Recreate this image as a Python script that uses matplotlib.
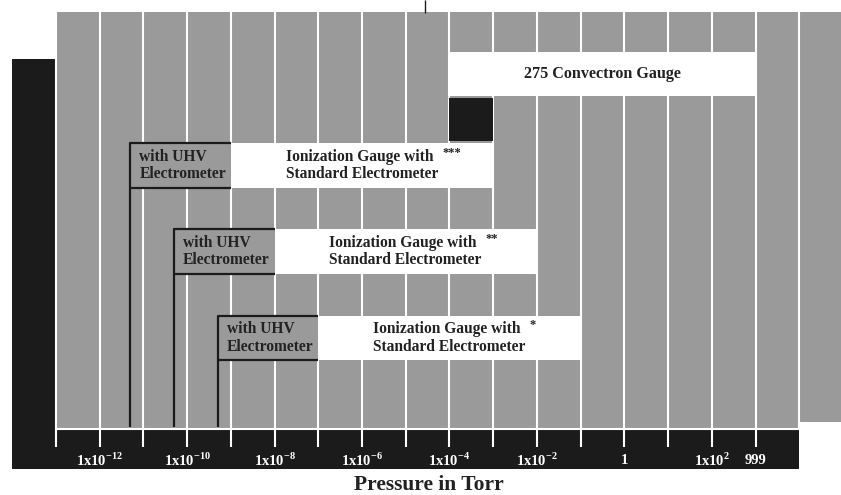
#!/usr/bin/env python3

import matplotlib
import numpy as np

matplotlib.use("Agg")
import matplotlib.pyplot as plt

plt.rcParams["font.family"] = ["Liberation Serif", "DejaVu Serif"]
plt.rcParams["mathtext.fontset"] = "custom"
plt.rcParams["mathtext.rm"] = "Liberation Serif"
plt.rcParams["mathtext.bf"] = "Liberation Serif:bold"

# gauge ranges, Torr
convectron_name = "275 Convectron Gauge"
convectron_low = 1e-4
convectron_high = 999
overlap_low = 1e-4
overlap_high = 1e-3

ion_marks = ["***", "**", "*"]
ion_std_low = [1e-9, 1e-8, 1e-7]
ion_std_high = [1e-3, 1e-2, 1e-1]
ion_uhv_low = [5e-12, 5e-11, 5e-10]

grid_decades = np.arange(-13, 5)
tick_decades = np.arange(-13, 4)
label_values = [1e-12, 1e-10, 1e-8, 1e-6, 1e-4, 1e-2, 1, 1e2, 999]
label_texts = [
    r"1x10$^{\mathbf{-12}}$", r"1x10$^{\mathbf{-10}}$", r"1x10$^{\mathbf{-8}}$",
    r"1x10$^{\mathbf{-6}}$", r"1x10$^{\mathbf{-4}}$", r"1x10$^{\mathbf{-2}}$",
    "1", r"1x10$^{\mathbf{2}}$", "999",
]
leader_x = 2.8e-5

# layout (pixel rows, y grows downward)
GRAY = "#9a9a9a"
BLACK = "#1b1b1b"
INK = "#222222"
gray_top, gray_bottom, gray_bottom_right = 12, 428, 422
bar_bottom = 469
band_top = 59
conv_row = (52, 96)
overlap_row = (98, 141)
ion_rows = [(143, 188), (229, 274), (316, 360)]

fig = plt.figure(figsize=(8.41, 4.95), dpi=100)
ax = fig.add_axes([0, 0, 1, 1])
ax.set_xscale("log")
ax.set_xlim(10 ** -14.281, 10 ** 4.955)
ax.set_ylim(495, 0)
ax.axis("off")
xmax = ax.get_xlim()[1]


def span(x0, x1, row, color, z):
    ax.barh((row[0] + row[1]) / 2, x1 - x0, left=x0, height=row[1] - row[0],
            color=color, linewidth=0, zorder=z)


# background blocks
span(1e-13, 1e4, (gray_top, gray_bottom), GRAY, 1)
span(1e4, xmax, (gray_top, gray_bottom_right), GRAY, 1)
span(1e-14, 1e-13, (band_top, bar_bottom), BLACK, 1)
span(1e-14, 1e4, (gray_bottom, bar_bottom), BLACK, 1)

# white grid lines and ticks
grid_x = 10.0 ** grid_decades
ax.vlines(grid_x, gray_top, gray_bottom, colors="white", linewidth=1.5, zorder=2)
ax.vlines(10.0 ** tick_decades, gray_bottom, 447, colors="white", linewidth=1.5, zorder=2)
ax.hlines(gray_bottom + 1, 1e-13, 1e4, colors="white", linewidth=1.5, zorder=2)
ax.vlines(leader_x, 0, gray_top + 1, colors=BLACK, linewidth=1.0, zorder=2)

# convectron
span(convectron_low, convectron_high, conv_row, "white", 4)
span(overlap_low, overlap_high, overlap_row, BLACK, 4)
ax.text(np.sqrt(convectron_low * convectron_high), sum(conv_row) / 2, convectron_name,
        ha="center", va="center", fontsize=11.6, fontweight="bold", color=INK, zorder=6)

# ionization gauges
for mark, lo, hi, uhv, row in zip(ion_marks, ion_std_low, ion_std_high, ion_uhv_low, ion_rows):
    yc = sum(row) / 2
    span(lo, hi, row, "white", 4)
    span(uhv, lo, row, GRAY, 4)
    ax.plot([lo, uhv, uhv], [row[0], row[0], gray_bottom - 1], color=BLACK,
            linewidth=1.6, zorder=5, solid_capstyle="butt")
    ax.plot([uhv, lo], [row[1], row[1]], color=BLACK, linewidth=1.6, zorder=5,
            solid_capstyle="butt")
    ax.annotate("with UHV\nElectrometer", xy=(uhv, yc), xytext=(6.5, 0),
                textcoords="offset points", ha="left", va="center", fontsize=11.2,
                fontweight="bold", color=INK, linespacing=1.15, zorder=6)
    ax.annotate("Ionization Gauge with\nStandard Electrometer", xy=(lo, yc),
                xytext=(39.5, 0), textcoords="offset points", ha="left", va="center",
                fontsize=11.2, fontweight="bold", color=INK, linespacing=1.15, zorder=6)
    ax.annotate(mark, xy=(lo, yc), xytext=(152, 5), textcoords="offset points",
                ha="left", va="bottom", fontsize=9, fontweight="bold", color=INK, zorder=6)

# tick labels
for val, txt in zip(label_values, label_texts):
    ax.text(val, 460, txt, ha="center", va="center", fontsize=10.5,
            fontweight="bold", color="white", zorder=6)

fig.text(0.51, 1 - 485 / 495, "Pressure in Torr", ha="center", va="center",
         fontsize=15.5, fontweight="bold", color=INK)

fig.savefig("out.png", dpi=100)
